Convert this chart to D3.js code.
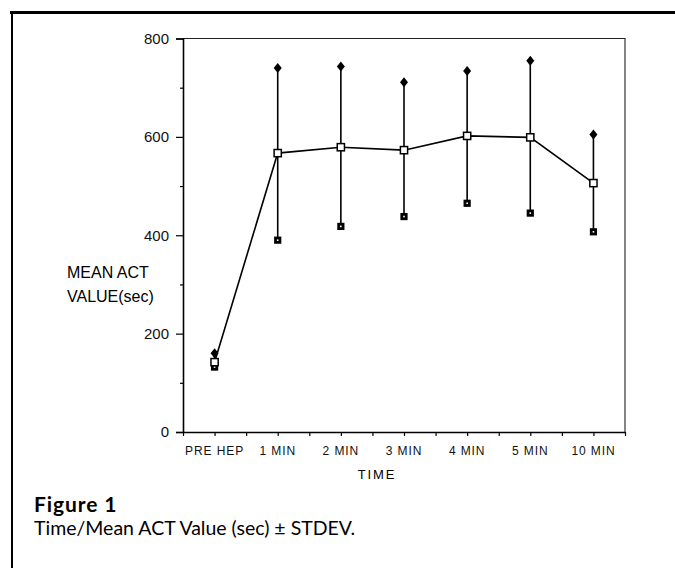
<!DOCTYPE html>
<html>
<head>
<meta charset="utf-8">
<script src="https://cdn.jsdelivr.net/npm/d3@7"></script>
<style>
  body { margin: 0; background: #fff; }
  svg { display: block; }
  .axis text { font-family: "Liberation Sans", Arial, sans-serif; fill: #111; }
</style>
</head>
<body>
<svg id="chart" width="675" height="568"></svg>
<script>
// values (ACT in seconds)
var categories = ["PRE HEP", "1 MIN", "2 MIN", "3 MIN", "4 MIN", "5 MIN", "10 MIN"];
var meanAct  = [142, 567, 579, 573, 602, 599, 506];
var upperAct = [160, 740, 743, 711, 734, 755, 605];
var lowerAct = [132, 390, 418, 438, 465, 445, 407];
var yMajor = [0, 200, 400, 600, 800];
var yMinor = [100, 300, 500, 700];

var svg = d3.select("#chart");
var plotL = 183, plotR = 625, plotT = 38.5, plotB = 432;

var x = d3.scaleBand().domain(categories).range([plotL, plotR]);
var xHalf = d3.scaleLinear().domain([0, categories.length * 2]).range([plotL, plotR]);
var y = d3.scaleLinear().domain([0, 800]).range([plotB, plotT]);

var rows = categories.map(function(c, i) {
  return {cat: c, mean: meanAct[i], hi: upperAct[i], lo: lowerAct[i]};
});

// outer figure frame (top + left only)
svg.append("line").attr("x1", 10).attr("x2", 675).attr("y1", 12.5).attr("y2", 12.5)
  .attr("stroke", "#000").attr("stroke-width", 3);
svg.append("line").attr("x1", 12).attr("x2", 12).attr("y1", 11).attr("y2", 568)
  .attr("stroke", "#000").attr("stroke-width", 2);

// thin top/right plot border
svg.append("path")
  .attr("d", "M" + plotL + "," + plotT + "H" + plotR + "V" + plotB)
  .attr("fill", "none").attr("stroke", "#222").attr("stroke-width", 1.1);

// y axis
var yAxis = svg.append("g").attr("class", "axis")
  .attr("transform", "translate(" + plotL + ",0)")
  .call(d3.axisLeft(y).tickValues(yMajor).tickSize(7).tickPadding(7).tickFormat(d3.format("d")));
yAxis.selectAll("text").style("font-size", "15px");
svg.append("g").attr("class", "axis")
  .attr("transform", "translate(" + plotL + ",0)")
  .call(d3.axisLeft(y).tickValues(yMinor).tickSize(3).tickFormat(""))
  .select(".domain").remove();

// x axis: tick marks every half band, labels at band centres
svg.append("g").attr("class", "axis")
  .attr("transform", "translate(0," + plotB + ")")
  .call(d3.axisBottom(xHalf).tickValues(d3.range(0, categories.length * 2 + 1)).tickSize(4).tickFormat(""))
  .select(".domain").remove();
var xAxis = svg.append("g").attr("class", "axis")
  .attr("transform", "translate(0," + plotB + ")")
  .call(d3.axisBottom(x).tickSize(0).tickPadding(14).tickSizeOuter(0));
xAxis.selectAll("text").style("font-size", "12px").style("letter-spacing", "0.9px");

svg.selectAll(".axis .domain").attr("stroke-width", 1.6).attr("stroke", "#000");
svg.selectAll(".axis .tick line").attr("stroke-width", 1.2).attr("stroke", "#000");

// axis titles
svg.append("text").attr("x", 377).attr("y", 479)
  .attr("text-anchor", "middle")
  .style("font-family", "Liberation Sans, Arial, sans-serif")
  .style("font-size", "13px").style("letter-spacing", "1.8px")
  .text("TIME");
var yl = svg.append("text")
  .style("font-family", "Liberation Sans, Arial, sans-serif")
  .style("font-size", "16px");
yl.append("tspan").attr("x", 67).attr("y", 278).text("MEAN ACT");
yl.append("tspan").attr("x", 67).attr("y", 302).text("VALUE(sec)");

// error bars
var cx = function(d) { return x(d.cat) + x.bandwidth() / 2; };
svg.append("g").selectAll("line").data(rows).enter().append("line")
  .attr("x1", cx).attr("x2", cx)
  .attr("y1", function(d) { return y(d.lo); })
  .attr("y2", function(d) { return y(d.hi); })
  .attr("stroke", "#000").attr("stroke-width", 1.6);

// mean line
var line = d3.line().x(cx).y(function(d) { return y(d.mean); });
svg.append("path").datum(rows).attr("d", line)
  .attr("fill", "none").attr("stroke", "#000").attr("stroke-width", 1.6);

// upper markers (filled diamonds)
svg.append("g").selectAll("path").data(rows).enter().append("path")
  .attr("transform", function(d) { return "translate(" + cx(d) + "," + y(d.hi) + ")"; })
  .attr("d", "M0,-5L4,0L0,5L-4,0Z")
  .attr("fill", "#000");

// lower markers (filled squares with tiny light centre)
var lo = svg.append("g").selectAll("g").data(rows).enter().append("g")
  .attr("transform", function(d) { return "translate(" + cx(d) + "," + y(d.lo) + ")"; });
lo.append("rect").attr("x", -3.6).attr("y", -3.6).attr("width", 7.2).attr("height", 7.2).attr("fill", "#000");
lo.append("rect").attr("x", -0.8).attr("y", -0.8).attr("width", 1.6).attr("height", 1.6).attr("fill", "#fff");

// mean markers (open squares)
svg.append("g").selectAll("rect").data(rows).enter().append("rect")
  .attr("x", function(d) { return cx(d) - 3.6; })
  .attr("y", function(d) { return y(d.mean) - 3.6; })
  .attr("width", 7.2).attr("height", 7.2)
  .attr("fill", "#fff").attr("stroke", "#000").attr("stroke-width", 1.5);

// figure caption
svg.append("text").attr("x", 34).attr("y", 512)
  .style("font-family", "Lato, sans-serif").style("font-weight", "bold").style("font-size", "21px")
  .style("letter-spacing", "0.9px")
  .text("Figure 1");
svg.append("text").attr("x", 34).attr("y", 535)
  .style("font-family", "Lato, sans-serif").style("font-size", "19.5px")
  .text("Time/Mean ACT Value (sec) \u00b1 STDEV.");
</script>
</body>
</html>
